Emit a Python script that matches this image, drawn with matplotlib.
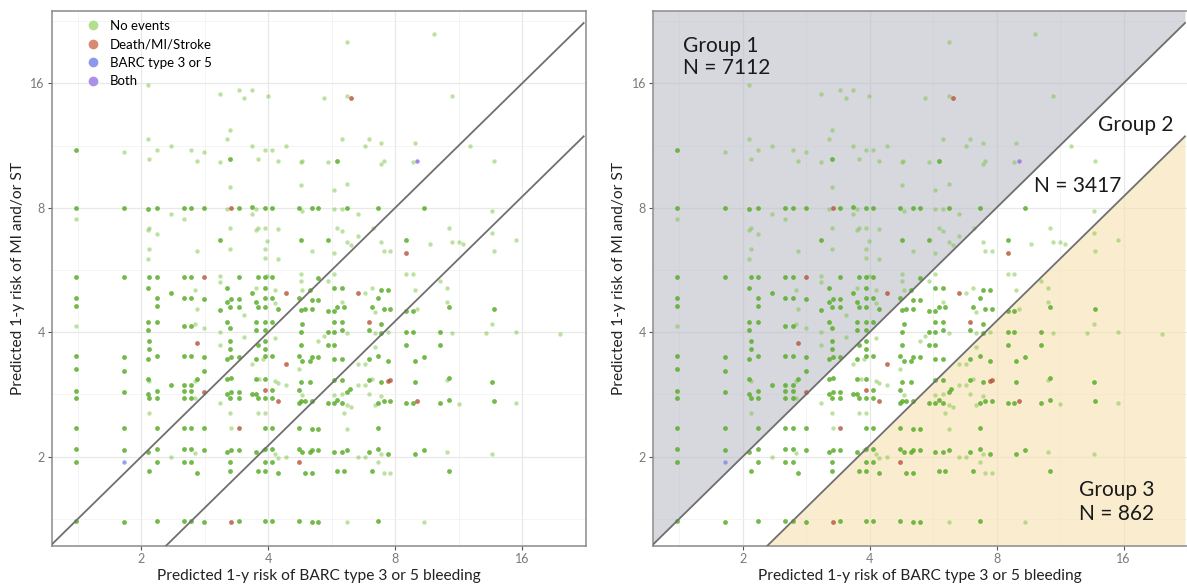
import matplotlib
matplotlib.use("Agg")
import matplotlib.pyplot as plt
from matplotlib.lines import Line2D

plt.rcParams['font.family'] = ['Lato', 'DejaVu Sans']

# points: (bleeding risk %, ischemic risk %)
no_events_dark = [
    (1.40, 11.05), (3.25, 10.5), (5.83, 10.4),
    (1.40, 8.0), (1.82, 8.0), (2.07, 7.94), (2.18, 8.0), (2.52, 8.0), (2.63, 8.0), (2.82, 8.0),
    (3.40, 8.0), (3.65, 8.05), (3.93, 8.0), (4.08, 8.0), (4.73, 8.0), (5.07, 8.0), (5.26, 8.0),
    (6.16, 8.0), (7.29, 8.0), (9.36, 8.0),
    (3.07, 6.68), (4.78, 6.68), (5.54, 6.68), (8.50, 6.68),
    (1.40, 5.45), (1.82, 5.45), (2.09, 5.45), (2.18, 5.45), (2.52, 5.45), (2.63, 5.45), (3.40, 5.45),
    (3.78, 5.45), (3.93, 5.45), (4.08, 5.45), (5.26, 5.42),
    (2.07, 5.11), (3.20, 5.11), (3.93, 5.11), (5.02, 5.06), (5.73, 5.11), (5.97, 5.11), (7.41, 5.06),
    (7.71, 5.06), (2.35, 4.98), (3.65, 4.98),
    (1.40, 4.85), (2.18, 4.85), (2.52, 4.85), (2.63, 4.85), (2.82, 4.80), (3.27, 4.80), (3.40, 4.80),
    (3.93, 4.85), (4.08, 4.85), (4.73, 4.83), (5.07, 4.79), (5.26, 4.79), (7.29, 4.85), (3.20, 4.74),
    (3.74, 4.74),
    (1.40, 4.64), (2.18, 4.64), (3.07, 4.52), (3.25, 4.61), (3.40, 4.61), (3.78, 4.61), (3.93, 4.61),
    (4.21, 4.56), (4.78, 4.53), (4.89, 4.56), (5.07, 4.56), (5.54, 4.51), (5.73, 4.51), (5.83, 4.59),
    (6.05, 4.59), (7.03, 4.59), (7.51, 4.56), (7.79, 4.56), (8.50, 4.51), (8.81, 4.51), (10.7, 4.59),
    (13.7, 4.56),
    (2.07, 4.23), (2.18, 4.23), (2.52, 4.15), (2.63, 4.15), (3.20, 4.23), (3.74, 4.23), (3.93, 4.23),
    (4.08, 4.23), (4.82, 4.19), (5.73, 4.23), (5.97, 4.23), (7.41, 4.19),
    (2.07, 4.05), (3.74, 4.05), (3.93, 4.05), (3.25, 4.10),
    (4.78, 4.01), (5.54, 4.0), (5.73, 4.0), (5.97, 4.05), (6.93, 4.05), (7.41, 3.99), (8.50, 4.01),
    (8.81, 4.01), (10.2, 4.01),
    (2.09, 3.81), (3.25, 3.81), (3.78, 3.73), (3.93, 3.81), (5.54, 3.73), (5.73, 3.73), (4.78, 3.73),
    (8.50, 3.73), (10.2, 3.73),
    (2.09, 3.64), (3.25, 3.64), (3.93, 3.64),
    (1.40, 3.50), (1.82, 3.48), (2.07, 3.44), (2.18, 3.50), (2.52, 3.50), (2.63, 3.50), (2.82, 3.48),
    (3.20, 3.44), (3.27, 3.48), (3.40, 3.48), (3.74, 3.44), (3.93, 3.50), (4.08, 3.50), (4.73, 3.51),
    (5.02, 3.41), (5.07, 3.48), (5.26, 3.48), (5.73, 3.44), (5.97, 3.44), (6.93, 3.44), (7.29, 3.51),
    (7.71, 3.41), (8.91, 3.41), (9.36, 3.48), (4.82, 3.41),
    (1.40, 3.25), (1.82, 3.23), (2.82, 3.23),
    (2.07, 3.09), (2.71, 3.08), (3.20, 3.08), (3.27, 3.10), (3.74, 3.08), (3.93, 3.08), (4.78, 3.03),
    (5.02, 3.03), (5.73, 3.06), (5.97, 3.06), (6.93, 3.06), (7.41, 3.03), (8.91, 3.03), (13.6, 3.03),
    (10.7, 3.10),
    (2.35, 2.98), (2.52, 2.98), (2.63, 2.98),
    (1.40, 2.89), (1.82, 2.87), (2.07, 2.84), (2.18, 2.89), (2.52, 2.89), (2.63, 2.89), (3.20, 2.84),
    (3.27, 2.87), (3.40, 2.87), (3.65, 2.84), (3.74, 2.84), (4.08, 2.90), (4.73, 2.90), (6.16, 2.87),
    (6.25, 2.91),
    (1.40, 2.77), (2.09, 2.77), (2.18, 2.77), (2.52, 2.77), (2.63, 2.77), (3.25, 2.77), (3.40, 2.77),
    (3.78, 2.77), (3.93, 2.77), (4.08, 2.77), (4.73, 2.70), (4.78, 2.73), (4.89, 2.72), (5.07, 2.72),
    (5.54, 2.70), (5.73, 2.70), (5.83, 2.74), (5.97, 2.70), (7.29, 2.70), (7.51, 2.72), (7.79, 2.72),
    (8.50, 2.70), (8.81, 2.70), (10.2, 2.70), (10.7, 2.74), (13.7, 2.72),
    (1.40, 2.34), (1.82, 2.34), (2.18, 2.34), (2.52, 2.34), (2.63, 2.34), (2.82, 2.34), (3.93, 2.34),
    (4.08, 2.34), (4.73, 2.35), (5.07, 2.33), (5.26, 2.33), (7.29, 2.35),
    (1.40, 2.09), (1.82, 2.07), (2.07, 2.05), (2.18, 2.09), (2.52, 2.09), (2.63, 2.09), (2.82, 2.07),
    (3.20, 2.05), (3.27, 2.07), (3.40, 2.07), (3.74, 2.05), (3.93, 2.09), (4.08, 2.09), (4.73, 2.09),
    (4.82, 2.05), (5.02, 2.05), (5.07, 2.08), (5.26, 2.07), (5.73, 2.05), (5.97, 2.05), (6.16, 2.07),
    (6.93, 2.05), (7.29, 2.09), (7.71, 2.03), (8.91, 2.03), (9.36, 2.07),
    (1.40, 1.94), (2.18, 1.94), (2.52, 1.94), (2.63, 1.94), (3.25, 1.94), (3.93, 1.94), (4.08, 1.94),
    (2.09, 1.85), (2.71, 1.83), (3.25, 1.85), (3.78, 1.85), (3.93, 1.85), (4.21, 1.83), (4.89, 1.83),
    (5.07, 1.83), (5.83, 1.85), (6.05, 1.85), (7.03, 1.85), (10.7, 1.85),
    (1.40, 1.40), (1.82, 1.39), (2.18, 1.40), (2.52, 1.40), (2.63, 1.40), (2.82, 1.39), (3.40, 1.40),
    (3.93, 1.40), (4.08, 1.40), (4.73, 1.40), (5.07, 1.39), (5.26, 1.39), (7.29, 1.40),
]

no_events_light = [
    (9.88, 21.0), (6.16, 20.1), (2.07, 15.84), (3.40, 15.4), (3.65, 15.4), (3.07, 15.07), (3.99, 14.9),
    (6.16, 14.9), (10.9, 14.9), (3.51, 14.7), (5.42, 14.7), (3.25, 12.3), (2.07, 11.7), (3.20, 11.7),
    (5.97, 11.7), (6.93, 11.7), (7.41, 11.5), (8.91, 11.5), (2.35, 11.3), (3.65, 11.3), (4.40, 11.3),
    (6.78, 11.3), (12.0, 11.3), (2.18, 11.05), (2.63, 11.05), (3.93, 11.05), (4.08, 11.05),
    (1.82, 10.9), (2.82, 10.9), (2.09, 10.5), (3.78, 10.5), (2.71, 10.4), (4.21, 10.4), (4.81, 10.4),
    (7.51, 10.4), (13.7, 10.4), (3.07, 10.3), (4.78, 10.3), (5.54, 10.3), (8.81, 10.3), (7.41, 10.2),
    (4.78, 9.1), (6.16, 9.12), (3.25, 9.0), (5.73, 8.83),
    (3.20, 7.94), (3.74, 7.93), (4.82, 7.84), (5.73, 7.94), (5.97, 7.94),
    (13.6, 7.84), (2.35, 7.72), (3.65, 7.72), (6.53, 7.72), (1.40, 7.50), (2.52, 7.50), (3.25, 7.15),
    (3.78, 7.15), (3.93, 7.15), (4.21, 7.09), (3.74, 7.06), (2.07, 7.06), (2.09, 7.15), (5.83, 7.15),
    (7.09, 7.15), (10.7, 7.15), (5.97, 7.03), (2.18, 6.90), (6.53, 6.85), (13.6, 6.96), (3.98, 6.65),
    (6.16, 6.62), (7.41, 6.62), (9.65, 6.53), (10.9, 6.62), (11.3, 6.62), (11.6, 6.53), (15.5, 6.68),
    (6.30, 6.50), (2.09, 6.35), (2.71, 6.29), (3.25, 6.35), (3.93, 6.35), (5.07, 6.29), (5.73, 6.23),
    (7.51, 6.29), (7.79, 6.29), (13.7, 6.29), (2.07, 6.01), (3.93, 6.06), (4.21, 6.01),
    (4.78, 5.52), (8.50, 5.52), (8.81, 5.52), (5.73, 5.52), (3.07, 5.48), (3.98, 5.48),
    (4.78, 5.33), (5.54, 5.33), (10.2, 5.33), (3.07, 5.30),
    (2.68, 5.06), (3.74, 5.11), (4.14, 5.06), (4.82, 5.06), (7.03, 5.11), (8.91, 5.06), (10.6, 5.11),
    (6.78, 4.97), (5.97, 4.74), (10.6, 4.74),
    (2.71, 4.56), (4.14, 4.70), (7.16, 4.48), (9.03, 4.56), (3.51, 4.40),
    (1.40, 4.15), (2.68, 4.19), (13.6, 4.19), (2.82, 4.10), (3.07, 4.01),
    (6.16, 3.99), (7.16, 3.99), (7.71, 4.01), (10.9, 3.99), (13.1, 3.99), (15.5, 4.01), (19.7, 3.97),
    (5.42, 3.91), (3.51, 3.90),
    (3.07, 3.73), (4.14, 3.87), (5.26, 3.81), (7.16, 3.69),
    (3.88, 3.44), (6.53, 3.35), (6.78, 3.35), (4.73, 3.26), (3.65, 3.36),
    (2.09, 3.04), (2.68, 3.04), (3.81, 3.09), (4.14, 3.04), (6.53, 2.98), (6.78, 2.98), (7.03, 3.09),
    (10.6, 3.06), (4.21, 3.01), (4.40, 2.98),
    (4.82, 2.82), (5.73, 2.82), (5.97, 2.84), (6.93, 2.84), (7.41, 2.80),
    (2.68, 2.77), (3.07, 2.70), (6.16, 2.67), (6.30, 2.64), (7.16, 2.67), (11.3, 2.68), (15.5, 2.70),
    (2.09, 2.55), (3.25, 2.55), (3.78, 2.55), (3.93, 2.55), (6.05, 2.55),
    (3.27, 2.34), (6.16, 2.33),
    (2.68, 2.04), (3.88, 2.08), (4.14, 2.03), (7.41, 2.03), (10.6, 2.05), (13.6, 2.03), (2.35, 2.0),
    (4.21, 1.98), (4.40, 2.0), (6.53, 2.0), (6.78, 2.0),
    (7.29, 1.94), (7.51, 1.83), (7.79, 1.83), (6.16, 1.39), (9.36, 1.39),
]

death_mi_stroke = [
    (6.30, 14.7), (3.27, 8.0), (8.50, 6.23), (2.82, 5.45), (4.40, 4.97), (6.53, 4.97), (2.71, 3.77),
    (6.93, 4.23), (4.40, 3.35), (7.71, 3.04), (7.79, 3.06), (2.82, 2.86), (3.93, 2.90), (4.21, 2.72),
    (9.03, 2.72), (3.40, 2.34), (4.73, 1.94), (3.27, 1.39),
]
barc_3_5 = [(1.82, 1.94)]
both_events = [(9.03, 10.4)]

legend_labels = ["No events", "Death/MI/Stroke", "BARC type 3 or 5", "Both"]
legend_colors = ["#b3de8f", "#d98872", "#8d98ea", "#ad8ee8"]

# group split: ischemic/bleeding ratio lines
upper_ratio = 1.0
lower_ratio = 0.532

group_labels = ["Group 1", "Group 2", "Group 3"]
group_counts = [7112, 3417, 862]

xlim = (1.226, 22.38)
ylim = (1.218, 23.97)
major = [2, 4, 8, 16]
minor = [1.414, 2.828, 5.657, 11.31, 22.63]

W, H = 1187, 588
fig = plt.figure(figsize=(W / 100, H / 100), dpi=100)
ax1 = fig.add_axes([51.7 / W, 42.3 / H, 534 / W, 535 / H])
ax2 = fig.add_axes([653 / W, 42.3 / H, 534 / W, 535 / H])


def style_axes(ax):
    ax.set_xscale("log", base=2)
    ax.set_yscale("log", base=2)
    ax.set_xlim(*xlim)
    ax.set_ylim(*ylim)
    ax.set_xticks(major)
    ax.set_yticks(major)
    ax.set_xticklabels([str(v) for v in major])
    ax.set_yticklabels([str(v) for v in major])
    ax.set_xticks(minor, minor=True)
    ax.set_yticks(minor, minor=True)
    ax.tick_params(which="minor", length=0, labelbottom=False, labelleft=False)
    ax.tick_params(which="major", length=3, width=0.8, color="#555555",
                   labelsize=9, labelcolor="#7a7a7a", pad=2)
    ax.grid(which="major", color="#e8e8e8", linewidth=0.9, zorder=0)
    ax.grid(which="minor", color="#f0f0f0", linewidth=0.5, zorder=0)
    ax.set_axisbelow(True)
    for sp in ax.spines.values():
        sp.set_color("#8a8a8a")
        sp.set_linewidth(1.1)
    ax.set_xlabel("Predicted 1-y risk of BARC type 3 or 5 bleeding", fontsize=11.2,
                  color="#222222", labelpad=3)
    ax.set_ylabel("Predicted 1-y risk of MI and/or ST", fontsize=11.2,
                  color="#222222", labelpad=4)


def draw_points(ax):
    x, y = zip(*no_events_light)
    ax.scatter(x, y, s=10, color="#7cc444", alpha=0.5, linewidths=0, zorder=3)
    x, y = zip(*no_events_dark)
    ax.scatter(x, y, s=12, color="#5aae2a", alpha=0.85, linewidths=0, zorder=3)
    x, y = zip(*death_mi_stroke)
    ax.scatter(x, y, s=12, color="#b5553b", alpha=0.8, linewidths=0, zorder=4)
    x, y = zip(*barc_3_5)
    ax.scatter(x, y, s=10, color="#7f8ae6", alpha=0.8, linewidths=0, zorder=4)
    x, y = zip(*both_events)
    ax.scatter(x, y, s=10, color="#9a78e0", alpha=0.9, linewidths=0, zorder=4)


def draw_lines(ax):
    for r in (upper_ratio, lower_ratio):
        ax.plot(xlim, [r * xlim[0], r * xlim[1]], color="#6f6f6f", linewidth=1.3, zorder=5)


for ax in (ax1, ax2):
    style_axes(ax)

# right panel shading
ax2.fill_between(xlim, [upper_ratio * xlim[0], upper_ratio * xlim[1]], ylim[1],
                 color="#bcbec7", alpha=0.6, linewidth=0, zorder=1)
ax2.fill_between(xlim, ylim[0], [lower_ratio * xlim[0], lower_ratio * xlim[1]],
                 color="#f8e2b0", alpha=0.6, linewidth=0, zorder=1)
ax2.spines["right"].set_visible(False)

for ax in (ax1, ax2):
    draw_points(ax)
    draw_lines(ax)

handles = [Line2D([], [], marker="o", linestyle="", markersize=7, color=c,
                  markeredgewidth=0) for c in legend_colors]
ax1.legend(handles, legend_labels, loc="upper left", bbox_to_anchor=(0.047, 0.998),
           frameon=False, fontsize=9.5, handletextpad=0.7, labelspacing=0.5,
           borderaxespad=0.2, handlelength=1.2)

# group annotations (pixel positions converted to figure fractions)
tk = dict(fontsize=15, color="#1a1a1a", transform=fig.transFigure)
fig.text(683 / W, 1 - 52 / H, group_labels[0], ha="left", va="baseline", **tk)
fig.text(683 / W, 1 - 74.5 / H, f"N = {group_counts[0]}", ha="left", va="baseline", **tk)
fig.text(1173 / W, 1 - 131 / H, group_labels[1], ha="right", va="baseline", **tk)
fig.text(1078 / W, 1 - 192 / H, f"N = {group_counts[1]}", ha="center", va="baseline", **tk)
fig.text(1117 / W, 1 - 496 / H, group_labels[2], ha="center", va="baseline", **tk)
fig.text(1117 / W, 1 - 519.5 / H, f"N = {group_counts[2]}", ha="center", va="baseline", **tk)

fig.savefig("out.png", dpi=100)
